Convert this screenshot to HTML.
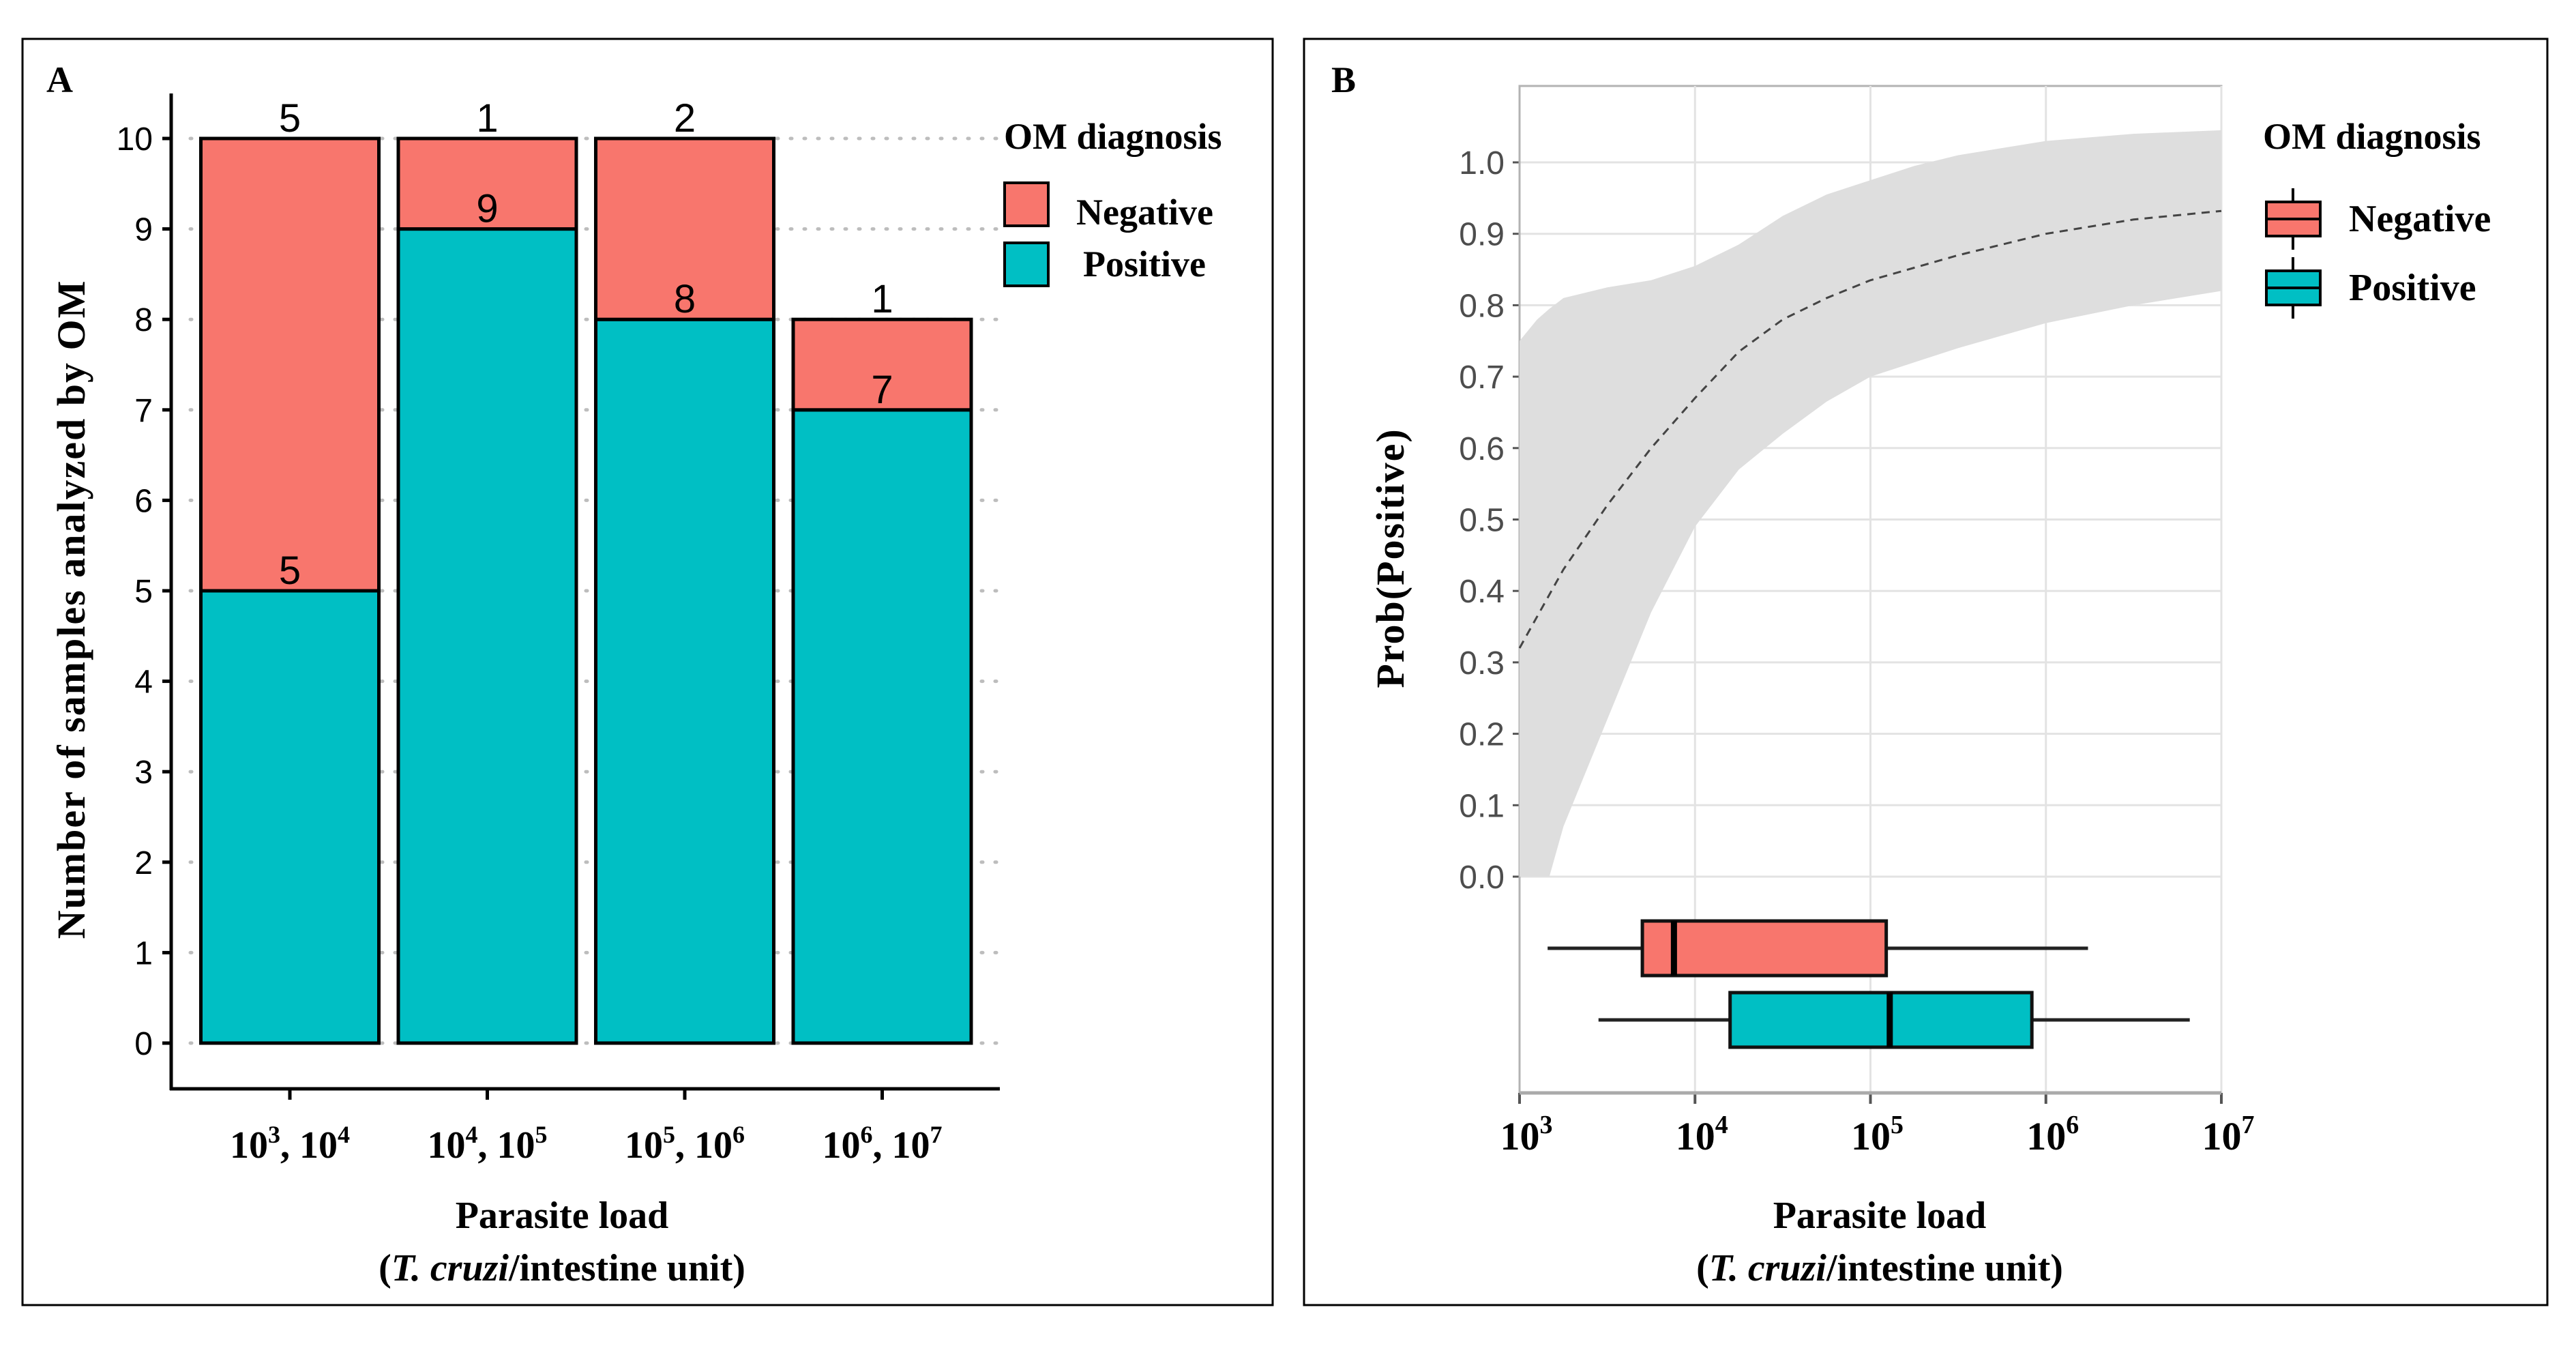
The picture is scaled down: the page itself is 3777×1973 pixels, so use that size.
<!DOCTYPE html>
<html><head><meta charset="utf-8">
<style>
html,body{margin:0;padding:0;background:#fff;}
svg{display:block;}
.serif{font-family:"Liberation Serif",serif;font-weight:bold;fill:#000;}
.sans{font-family:"Liberation Sans",sans-serif;}
</style></head>
<body>
<svg id="fig" width="3777" height="1973" viewBox="0 0 3777 1973" xmlns="http://www.w3.org/2000/svg">
  <rect x="0" y="0" width="3777" height="1973" fill="#fff"/>
  <rect x="33" y="57" width="1833" height="1856" fill="none" stroke="#000" stroke-width="3"/>
  <rect x="1912" y="57" width="1823" height="1856" fill="none" stroke="#000" stroke-width="3"/>
  <text x="68" y="135" class="serif" font-size="54">A</text>
  <text x="1952" y="135" class="serif" font-size="54">B</text>
  <g id="chartA"></g>
  <g id="chartB"></g>

  <text transform="translate(124,893) rotate(-90)" text-anchor="middle" class="serif" font-size="58" letter-spacing="2">Number of samples analyzed by OM</text>
  <text x="824" y="1800" text-anchor="middle" class="serif" font-size="56">Parasite load</text>
  <text x="824" y="1877" text-anchor="middle" class="serif" font-size="56">(<tspan font-style="italic">T. cruzi</tspan>/intestine  unit)</text>
  <text x="1472" y="218" class="serif" font-size="54">OM diagnosis</text>
  <rect x="1473" y="268" width="64" height="63" fill="#F8766D" stroke="#000" stroke-width="4"/>
  <rect x="1473" y="356" width="64" height="63" fill="#00BFC4" stroke="#000" stroke-width="4"/>
  <text x="1578" y="329" class="serif" font-size="54">Negative</text>
  <text x="1588" y="405" class="serif" font-size="54">Positive</text>

  <text transform="translate(2058,818) rotate(-90)" text-anchor="middle" class="serif" font-size="58" letter-spacing="2">Prob(Positive)</text>
  <text x="2756" y="1800" text-anchor="middle" class="serif" font-size="56">Parasite load</text>
  <text x="2756" y="1877" text-anchor="middle" class="serif" font-size="56">(<tspan font-style="italic">T. cruzi</tspan>/intestine  unit)</text>
  <text x="3318" y="218" class="serif" font-size="54">OM diagnosis</text>
  <line x1="3362" y1="276" x2="3362" y2="366" stroke="#000" stroke-width="4"/>
  <rect x="3323" y="296" width="79" height="50" fill="#F8766D" stroke="#000" stroke-width="4"/>
  <line x1="3323" y1="321" x2="3402" y2="321" stroke="#000" stroke-width="4"/>
  <line x1="3362" y1="377" x2="3362" y2="467" stroke="#000" stroke-width="4"/>
  <rect x="3323" y="397" width="79" height="50" fill="#00BFC4" stroke="#000" stroke-width="4"/>
  <line x1="3323" y1="422" x2="3402" y2="422" stroke="#000" stroke-width="4"/>
  <text x="3444" y="339" class="serif" font-size="56">Negative</text>
  <text x="3444" y="440" class="serif" font-size="56">Positive</text>
</svg>
<script>
// ---------- Panel A data ----------
const catExp = [3, 4, 5, 6];
const posCounts = [5, 9, 8, 7];
const negCounts = [5, 1, 2, 1];
const yTicksA = [0,1,2,3,4,5,6,7,8,9,10];

// ---------- Panel B data ----------
const bandLogX = [3, 3.1, 3.17, 3.25, 3.5, 3.75, 4, 4.25, 4.5, 4.75, 5, 5.25, 5.5, 6, 6.5, 7];
const bandUpper = [0.75, 0.78, 0.795, 0.81, 0.825, 0.835, 0.855, 0.885, 0.925, 0.955, 0.975, 0.995, 1.01, 1.03, 1.04, 1.045];
const bandLower = [0.0, 0.0, 0.0, 0.07, 0.22, 0.37, 0.49, 0.57, 0.62, 0.665, 0.70, 0.72, 0.74, 0.775, 0.80, 0.82];
const meanLogX = [3, 3.25, 3.5, 3.75, 4, 4.25, 4.5, 4.75, 5, 5.5, 6, 6.5, 7];
const meanProb = [0.32, 0.43, 0.52, 0.60, 0.67, 0.735, 0.78, 0.81, 0.835, 0.87, 0.90, 0.92, 0.932];
const boxGroups = ['Negative', 'Positive'];
const boxMin = [3.16, 3.45];
const boxQ1 = [3.70, 4.20];
const boxMed = [3.88, 5.11];
const boxQ3 = [5.09, 5.92];
const boxMax = [6.24, 6.82];
const yTicksB = [0,0.1,0.2,0.3,0.4,0.5,0.6,0.7,0.8,0.9,1.0];
const xTicksB = [3,4,5,6,7];

const NS = 'http://www.w3.org/2000/svg';
function mk(parent, tag, attrs, text){
  const e = document.createElementNS(NS, tag);
  for (const k in attrs) e.setAttribute(k, attrs[k]);
  if (text !== undefined) e.textContent = text;
  parent.appendChild(e);
  return e;
}
const colNeg = '#F8766D', colPos = '#00BFC4';

(function(){
  const g = document.getElementById('chartA');
  const y = v => 1529 - v * 132.6;
  const step = 289.5, x0 = 425, bw = 261;
  const x = i => x0 + i * step;
  yTicksA.forEach(t => {
    const l = mk(g, 'line', {x1: 279, x2: 1466, y1: y(t), y2: y(t), stroke: '#bdbdbd', 'stroke-width': 5, 'stroke-dasharray': '2 18', 'stroke-linecap': 'round'});
    
    
  });
  mk(g, 'line', {x1: 251, x2: 251, y1: 137, y2: 1598, stroke: '#000', 'stroke-width': 5});
  mk(g, 'line', {x1: 249, x2: 1466, y1: 1596, y2: 1596, stroke: '#000', 'stroke-width': 5});
  yTicksA.forEach(t => {
    mk(g, 'line', {x1: 238, x2: 251, y1: y(t), y2: y(t), stroke: '#000', 'stroke-width': 5});
    const tx = mk(g, 'text', {x: 224, y: y(t) + 17, 'text-anchor': 'end', 'font-size': 48, class: 'sans', fill: '#000'}, String(t));
    
    
  });
  catExp.forEach((e, i) => {
    const cx = x(i);
    const pos = posCounts[i], neg = negCounts[i], tot = pos + neg;
    const rp = mk(g, 'rect', {x: cx - bw/2, y: y(pos), width: bw, height: y(0) - y(pos), fill: colPos, stroke: '#000', 'stroke-width': 5});
    
    
    const rn = mk(g, 'rect', {x: cx - bw/2, y: y(tot), width: bw, height: y(pos) - y(tot), fill: colNeg, stroke: '#000', 'stroke-width': 5});
    
    
    const lp = mk(g, 'text', {x: cx, y: y(pos) - 10, 'text-anchor': 'middle', 'font-size': 58, class: 'sans', fill: '#000'}, String(pos));
    
    
    const ln = mk(g, 'text', {x: cx, y: y(tot) - 10, 'text-anchor': 'middle', 'font-size': 58, class: 'sans', fill: '#000'}, String(neg));
    
    
    mk(g, 'line', {x1: cx, x2: cx, y1: 1596, y2: 1612, stroke: '#000', 'stroke-width': 5});
    const xt = mk(g, 'text', {x: cx, y: 1697, 'text-anchor': 'middle', 'font-size': 56, class: 'serif'});
    
    
    mk(xt, 'tspan', {}, '10');
    mk(xt, 'tspan', {dy: -22, 'font-size': 36}, String(e));
    mk(xt, 'tspan', {dy: 22}, ', 10');
    mk(xt, 'tspan', {dy: -22, 'font-size': 36}, String(e + 1));
  });
})();

(function(){
  const g = document.getElementById('chartB');
  const L = 2228, R = 3257, T = 126, B = 1602;
  const x = lx => L + (lx - 3) * (R - L) / 4;
  const y = p => 1285 - p * 1047;
  mk(g, 'rect', {x: L, y: T, width: R - L, height: B - T, fill: '#fff', stroke: '#b3b3b3', 'stroke-width': 3});
  yTicksB.forEach(t => {
    const l = mk(g, 'line', {x1: L, x2: R, y1: y(t), y2: y(t), stroke: '#e3e3e3', 'stroke-width': 3});
    
    
    mk(g, 'line', {x1: L - 10, x2: L, y1: y(t), y2: y(t), stroke: '#555', 'stroke-width': 3});
    const tx = mk(g, 'text', {x: L - 22, y: y(t) + 17, 'text-anchor': 'end', 'font-size': 48, class: 'sans', fill: '#4d4d4d'}, t.toFixed(1));
    
    
  });
  xTicksB.forEach(t => {
    const l = mk(g, 'line', {x1: x(t), x2: x(t), y1: T, y2: B, stroke: '#e3e3e3', 'stroke-width': 3});
    
    
    mk(g, 'line', {x1: x(t), x2: x(t), y1: B, y2: B + 16, stroke: '#555', 'stroke-width': 4});
    const xt = mk(g, 'text', {x: x(t) + 10, y: 1685, 'text-anchor': 'middle', 'font-size': 58, class: 'serif'});
    
    
    mk(xt, 'tspan', {}, '10');
    mk(xt, 'tspan', {dy: -24, 'font-size': 38}, String(t));
  });
  mk(g, 'line', {x1: L, x2: R, y1: B, y2: B, stroke: '#aaa', 'stroke-width': 5});
  mk(g, 'line', {x1: L, x2: L, y1: T, y2: B, stroke: '#b3b3b3', 'stroke-width': 3});
  let d = '';
  bandLogX.forEach((lx, i) => { d += (i ? 'L' : 'M') + x(lx) + ',' + y(bandUpper[i]); });
  for (let i = bandLogX.length - 1; i >= 0; i--) d += 'L' + x(bandLogX[i]) + ',' + y(bandLower[i]);
  const rib = mk(g, 'path', {d: d + 'Z', fill: '#dedede', stroke: 'none'});
  
  
  let dm = '';
  meanLogX.forEach((lx, i) => { dm += (i ? 'L' : 'M') + x(lx) + ',' + y(meanProb[i]); });
  const ml = mk(g, 'path', {d: dm, fill: 'none', stroke: '#444', 'stroke-width': 3, 'stroke-dasharray': '12 9'});
  
  
  const boxCy = [1390, 1495], bh = 80, cols = [colNeg, colPos];
  boxGroups.forEach((gName, i) => {
    const cy = boxCy[i];
    mk(g, 'line', {x1: x(boxMin[i]), x2: x(boxQ1[i]), y1: cy, y2: cy, stroke: '#222', 'stroke-width': 5});
    mk(g, 'line', {x1: x(boxQ3[i]), x2: x(boxMax[i]), y1: cy, y2: cy, stroke: '#222', 'stroke-width': 5});
    const b = mk(g, 'rect', {x: x(boxQ1[i]), y: cy - bh/2, width: x(boxQ3[i]) - x(boxQ1[i]), height: bh, fill: cols[i], stroke: '#111', 'stroke-width': 5});
    
    
    mk(g, 'line', {x1: x(boxMed[i]), x2: x(boxMed[i]), y1: cy - bh/2, y2: cy + bh/2, stroke: '#000', 'stroke-width': 9});
  });
})();
</script>
</body></html>
